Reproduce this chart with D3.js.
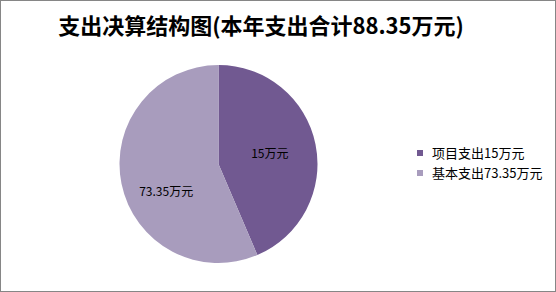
<!DOCTYPE html>
<html>
<head>
<meta charset="utf-8">
<script src="https://cdn.jsdelivr.net/npm/d3@7"></script>
<style>
  body { margin: 0; background: #fff; }
  text { font-family: "Noto Sans CJK SC", "Noto Sans", sans-serif; }
</style>
</head>
<body>
<div id="chart"></div>
<script>
var width = 556;
var height = 292;

var title = "支出决算结构图(本年支出合计88.35万元)";
var categories = ["项目支出", "基本支出"];
var amounts = ["15", "73.35"];
// slice sizes as drawn in the picture (the drawn angles don't follow the labels)
var shares = [38.5, 49.85];
var colors = ["#715991", "#A89CBD"];

var svg = d3.select("#chart")
  .append("svg")
  .attr("width", width)
  .attr("height", height);

svg.append("rect")
  .attr("x", 0.5)
  .attr("y", 0.5)
  .attr("width", width - 1)
  .attr("height", height - 1)
  .attr("fill", "#fff")
  .attr("stroke", "#868686");

svg.append("text")
  .attr("x", 261)
  .attr("y", 34)
  .attr("text-anchor", "middle")
  .attr("font-size", 22)
  .attr("font-weight", "bold")
  .attr("fill", "#000")
  .text(title);

var cx = 218.5, cy = 164, r = 99;

var pie = d3.pie().sort(null).value(function(d) { return d; });
var arcs = pie(shares);
var arc = d3.arc().innerRadius(0).outerRadius(r);
var labelArc = d3.arc().innerRadius(r * 0.55).outerRadius(r * 0.55);
// nudge labels to where excel put them
var nudge = [[-2, 1], [1, 17]];

var g = svg.append("g").attr("transform", `translate(${cx},${cy})`);

g.selectAll("path")
  .data(arcs)
  .enter()
  .append("path")
    .attr("d", arc)
    .attr("fill", function(d, i) { return colors[i]; });

g.selectAll("text.lbl")
  .data(arcs)
  .enter()
  .append("text")
    .attr("class", "lbl")
    .attr("transform", function(d, i) {
      var c = labelArc.centroid(d);
      return `translate(${c[0] + nudge[i][0]},${c[1] + nudge[i][1]})`;
    })
    .attr("text-anchor", "middle")
    .attr("dy", "0.35em")
    .attr("font-size", 12)
    .attr("fill", "#000")
    .text(function(d, i) { return amounts[i] + "万元"; });

var legendY = d3.scalePoint()
  .domain(categories)
  .range([153, 173]);

var legend = svg.append("g");
legend.selectAll("rect")
  .data(categories)
  .enter()
  .append("rect")
    .attr("x", 417)
    .attr("y", function(d) { return legendY(d) - 3; })
    .attr("width", 6)
    .attr("height", 6)
    .attr("fill", function(d, i) { return colors[i]; });

legend.selectAll("text")
  .data(categories)
  .enter()
  .append("text")
    .attr("x", 432)
    .attr("y", legendY)
    .attr("dy", "0.36em")
    .attr("font-size", 13)
    .attr("fill", "#000")
    .text(function(d, i) { return d + amounts[i] + "万元"; });
</script>
</body>
</html>
